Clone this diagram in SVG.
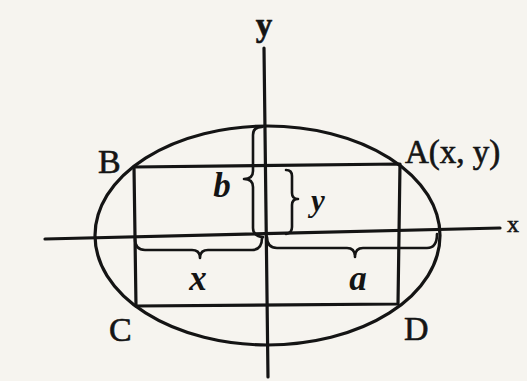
<svg xmlns="http://www.w3.org/2000/svg" width="527" height="381" viewBox="0 0 527 381">
<style>
.ln{fill:none;stroke:#141414;stroke-width:3.2;stroke-linecap:round;stroke-linejoin:round}
.br{fill:none;stroke:#141414;stroke-width:2.6;stroke-linecap:round;stroke-linejoin:round}
.up{font-family:"Liberation Serif","Times New Roman",serif;fill:#141414;stroke:#141414;stroke-width:0.6}
.it{font-family:"Liberation Serif","Times New Roman",serif;font-style:italic;font-weight:bold;fill:#141414}
</style>
<rect x="0" y="0" width="527" height="381" fill="#f6f4ef"/>
<g id="axes">
<line class="ln" x1="45" y1="239" x2="500" y2="228"/>
<line class="ln" x1="264" y1="48" x2="268" y2="377"/>
<text class="up" x="264" y="36" font-size="33" font-weight="bold" text-anchor="middle">y</text>
<text class="up" x="513" y="232" font-size="24" stroke-width="0.2" text-anchor="middle">x</text>
</g>
<g id="ellipse">
<ellipse class="ln" cx="267.5" cy="235.5" rx="172.5" ry="109.5"/>
</g>
<g id="rectangle">
<polygon class="ln" points="134,167 400,164 398,304 136,306"/>
</g>
<g id="braces">
<path class="br" d="M262,127 Q253,127 253,135 L253,171 Q253,179 244,179 Q253,179 253,187 L253,228 Q253,236 263,237"/>
<path class="br" d="M286,170 Q292,170 292,176 L292,193 Q292,199 298,199 Q292,199 292,205 L292,227 Q292,233 286,234"/>
<path class="br" d="M135,239 Q135,250 145,250 L192,250 Q200,250 200,258 Q200,250 208,250 L252,250 Q262,250 262,238"/>
<path class="br" d="M267,237 Q267,248 277,248 L347,248 Q355,248 355,257 Q355,248 363,248 L427,248 Q437,248 437,234"/>
</g>
<g id="labels">
<text class="up" x="98" y="173" font-size="34">B</text>
<text class="up" x="405" y="163" font-size="33">A(x, y)</text>
<text class="up" x="109" y="341" font-size="34">C</text>
<text class="up" x="404" y="340" font-size="34">D</text>
<text class="it" x="222" y="197" font-size="35" text-anchor="middle">b</text>
<text class="it" x="318" y="211" font-size="31" text-anchor="middle">y</text>
<text class="it" x="198" y="290" font-size="35" text-anchor="middle">x</text>
<text class="it" x="358" y="290" font-size="35" text-anchor="middle">a</text>
</g>
</svg>
